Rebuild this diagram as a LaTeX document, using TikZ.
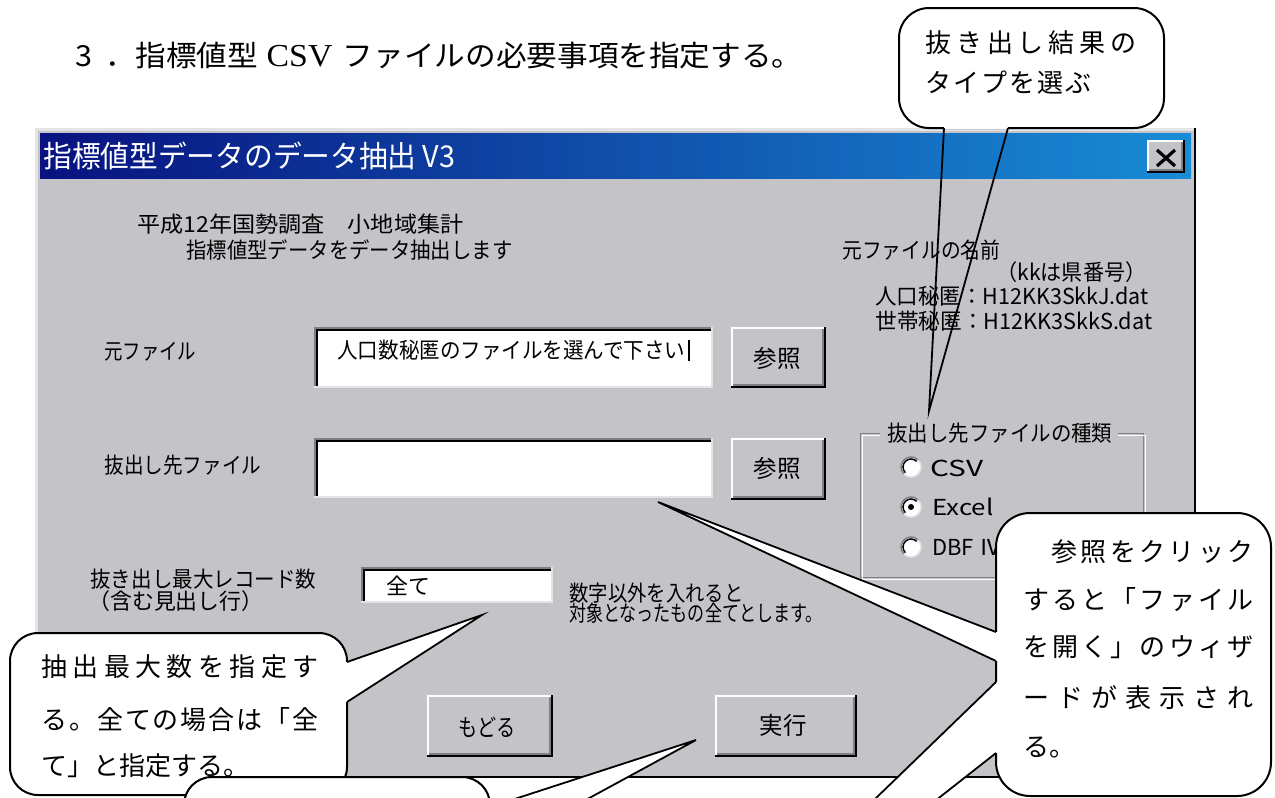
\documentclass[tikz,border=0pt]{standalone}
\usepackage{fontspec}
\usepackage{graphicx}
\setmainfont{Noto Sans CJK JP}
\newfontfamily\csvfont{Liberation Serif}
\newdimen\pxu \pxu=0.5pt
\newcommand\fitw[2]{\resizebox{#1\pxu}{\height}{#2}}
\makeatletter
\def\sprd#1{\hbox to #1\pxu\bgroup\sprd@a}
\def\sprd@a#1{#1\sprd@b}
\def\sprd@b#1{\ifx#1\relax\egroup\else\hfil#1\expandafter\sprd@b\fi}
\makeatother
\definecolor{dlg}{RGB}{196,195,200}
\definecolor{darkedge}{RGB}{128,128,128}
\definecolor{lightedge}{RGB}{228,228,228}
\definecolor{tbl}{RGB}{8,18,128}
\definecolor{tbr}{RGB}{24,140,214}
\newcommand\raisedbox[4]{%
  \fill[dlg] (#1,#2) rectangle (#3,#4);
  \draw[white,line width=1pt] (#1+1,#4-1) -- (#1+1,#2+1) -- (#3-1,#2+1);
  \draw[black,line width=1pt] (#1,#4-1) -- (#3-1,#4-1) -- (#3-1,#2);
  \draw[darkedge,line width=1pt] (#1+2,#4-3) -- (#3-3,#4-3) -- (#3-3,#2+2);
}
\newcommand\sunkenbox[4]{%
  \fill[white] (#1,#2) rectangle (#3,#4);
  \draw[darkedge,line width=1pt] (#1+1,#4) -- (#1+1,#2+1) -- (#3,#2+1);
  \draw[black,line width=1pt] (#1+3,#4-2) -- (#1+3,#2+3) -- (#3-2,#2+3);
  \draw[lightedge,line width=1pt] (#1,#4-1) -- (#3-1,#4-1) -- (#3-1,#2);
}
\newcommand\radiobtn[3]{%
  \fill[white] (#1,#2) circle (10);
  \draw[darkedge,line width=0.75pt] (#1,#2) ++(135:10) arc[start angle=135,end angle=315,radius=10];
  \draw[black,line width=0.75pt] (#1,#2) ++(135:8) arc[start angle=135,end angle=315,radius=8];
  \draw[lightedge,line width=0.75pt] (#1,#2) ++(315:10) arc[start angle=315,end angle=495,radius=10];
  \ifnum#3=1 \fill[black] (#1,#2) circle (3);\fi
}
\begin{document}
\begin{tikzpicture}[x=0.5pt,y=-0.5pt,
  lbl/.style={anchor=west,inner sep=0pt,font=\fontsize{11}{13}\selectfont},
  btntext/.style={inner sep=0pt,font=\fontsize{12}{14}\selectfont},
  callout/.style={fill=white,draw=black,line width=1pt},
  ctext/.style={anchor=west,inner sep=0pt,font=\fontsize{13}{15}\selectfont},
  tail/.style={draw=black,line width=0.9pt,line join=miter}]
\useasboundingbox (0,0) rectangle (1275,798);
\clip (0,0) rectangle (1275,798);
\fill[white] (0,0) rectangle (1275,798);

% heading
\node[anchor=west,inner sep=0pt] (heading) at (75,56)
  {\fitw{727}{\fontsize{14.5}{17}\selectfont 3\hspace{6pt}．指標値型\hspace{4pt}{\csvfont\fontsize{16}{17}\selectfont CSV}\hspace{5pt}ファイルの必要事項を指定する。}};

% dialog frame
\fill[dlg] (35,128) rectangle (1196,778);
\draw[lightedge,line width=1.5pt] (36.5,778) -- (36.5,129.5) -- (1196,129.5);
\draw[black,line width=1pt] (1195,128) -- (1195,777) -- (35,777);
\shade[left color=tbl,right color=tbr] (40,133) rectangle (1191,178);
\node[anchor=west,inner sep=0pt,text=white] (title) at (43,156)
  {\fitw{412}{\fontsize{15}{17}\selectfont 指標値型データのデータ抽出 V3}};
\raisedbox{1147}{140}{1185}{173}
\coordinate (xa) at (1157,150); \coordinate (xb) at (1175,166);
\coordinate (xc) at (1175,150); \coordinate (xd) at (1157,166);
\draw[black,line width=1.6pt] (xa) -- (xb) (xc) -- (xd);

% header texts
\node[lbl] (t1) at (137,224) {\fitw{326}{平成12年国勢調査　小地域集計}};
\node[lbl] (t2) at (186,250) {\fitw{326}{指標値型データをデータ抽出します}};

% source file row
\node[lbl] (lsrc) at (104,352) {\fitw{92}{元ファイル}};
\sunkenbox{314}{327}{713}{388}
\node[lbl] (src) at (337,350) {\fitw{348}{人口数秘匿のファイルを選んで下さい}};
\coordinate (cara) at (689,340); \coordinate (carb) at (689,361);
\draw[black,line width=0.7pt] (cara) -- (carb);
\raisedbox{731}{327}{826}{388}
\node[btntext] (ref1) at (777,358) {\fitw{47}{参照}};

% destination row
\node[lbl] (ldst) at (104,465) {\fitw{157}{抜出し先ファイル}};
\sunkenbox{314}{438}{713}{498}
\raisedbox{731}{438}{826}{500}
\node[btntext] (ref2) at (777,468) {\fitw{47}{参照}};

% max records
\node[lbl] (lmax1) at (90,579) {\fitw{226}{抜き出し最大レコード数}};
\node[lbl] (lmax2) at (88,601) {\fitw{175}{（含む見出し行）}};
\sunkenbox{361}{567}{553}{603}
\node[lbl] (tall) at (386,586) {全て};
\node[lbl] (note1) at (569,593) {\fitw{174}{数字以外を入れると}};
\node[lbl] (note2) at (569,613) {\fitw{253}{対象となったもの全てとします。}};

% right info
\node[lbl] (nm) at (842,250) {\fitw{158}{元ファイルの名前}};
\node[lbl] (kk) at (996,272) {\fitw{150}{（kkは県番号）}};
\node[lbl] (fj) at (875,296) {\fitw{273}{人口秘匿：H12KK3SkkJ.dat}};
\node[lbl] (fs) at (875,321) {\fitw{277}{世帯秘匿：H12KK3SkkS.dat}};

% group box
\draw[darkedge,line width=0.5pt] (880,433) -- (860,433) -- (860,577) -- (1143,577) -- (1143,433) -- (1118,433);
\draw[white,line width=0.5pt] (880,435) -- (862,435) -- (862,579) -- (1145,579) -- (1145,435) -- (1118,435);
\node[lbl] (grp) at (887,433) {\fitw{225}{抜出し先ファイルの種類}};
\radiobtn{911}{467}{0}
\radiobtn{911}{507}{1}
\radiobtn{911}{547}{0}
\node[lbl] (rcsv) at (930,468) {\fitw{53}{CSV}};
\node[lbl] (rxls) at (932,507) {\fitw{61}{Excel}};
\node[lbl] (rdbf) at (932,547) {DBF Ⅳ};

% bottom buttons
\raisedbox{427}{695}{553}{757}
\node[btntext] (back) at (487,727) {\fitw{57}{もどる}};
\raisedbox{715}{695}{857}{757}
\node[btntext] (run) at (783,725) {\fitw{47}{実行}};

% callout 1 (tail open, not filled)
\draw[callout,rounded corners=15pt] (899,8) rectangle (1164,128);
\coordinate (c1a) at (944,128); \coordinate (c1b) at (1008,128); \coordinate (c1tip) at (929,411);
\fill[white] (944,123) rectangle (1008,129.2);
\draw[tail] (c1a) -- (c1tip) -- (c1b);
\node[ctext] (c1l1) at (925,43) {\sprd{211}抜き出し結果の\relax};
\node[ctext] (c1l2) at (925,83) {\sprd{166}タイプを選ぶ\relax};

% callout 3
\draw[callout,rounded corners=17pt] (996,513) rectangle (1271,796);
\coordinate (c3a) at (996,632); \coordinate (c3b) at (996,661); \coordinate (c3tip) at (658,502);
\fill[white] (1001,632) -- (c3a) -- (c3tip) -- (c3b) -- (1001,661) -- cycle;
\draw[tail] (c3a) -- (c3tip) -- (c3b);
\coordinate (c3c) at (996,682); \coordinate (c3d) at (996,753); \coordinate (c3tip2) at (603,1062);
\fill[white] (1001,682) -- (c3c) -- (c3tip2) -- (c3d) -- (1001,753) -- cycle;
\draw[tail] (c3c) -- (c3tip2) -- (c3d);
\node[ctext] (c3l1) at (1051,552) {\sprd{202}参照をクリック\relax};
\node[ctext] (c3l2) at (1023,600) {\sprd{230}すると「ファイル\relax};
\node[ctext] (c3l3) at (1023,647) {\sprd{230}を開く」のウィザ\relax};
\node[ctext] (c3l4) at (1023,698) {\sprd{230}ードが表示され\relax};
\node[ctext] (c3l5) at (1023,747) {る。};

% callout 2
\draw[callout,rounded corners=14pt] (10,633) rectangle (347,795);
\coordinate (c2a) at (347,662); \coordinate (c2b) at (347,702); \coordinate (c2tip) at (482,615);
\fill[white] (342,662) -- (c2a) -- (c2tip) -- (c2b) -- (342,702) -- cycle;
\draw[tail] (c2a) -- (c2tip) -- (c2b);
\node[ctext] (c2l1) at (41,667) {\sprd{277}抽出最大数を指定す\relax};
\node[ctext] (c2l2) at (41,720) {\sprd{277}る。全ての場合は「全\relax};
\node[ctext] (c2l3) at (41,766) {て」と指定する。};

% callout 4
\draw[callout,rounded corners=14pt] (184,777) rectangle (490,900);
\coordinate (c4a) at (490,807); \coordinate (c4b) at (490,852); \coordinate (c4tip) at (696,740);
\fill[white] (485,807) -- (c4a) -- (c4tip) -- (c4b) -- (485,852) -- cycle;
\draw[tail] (c4a) -- (c4tip) -- (c4b);
\end{tikzpicture}
\end{document}
